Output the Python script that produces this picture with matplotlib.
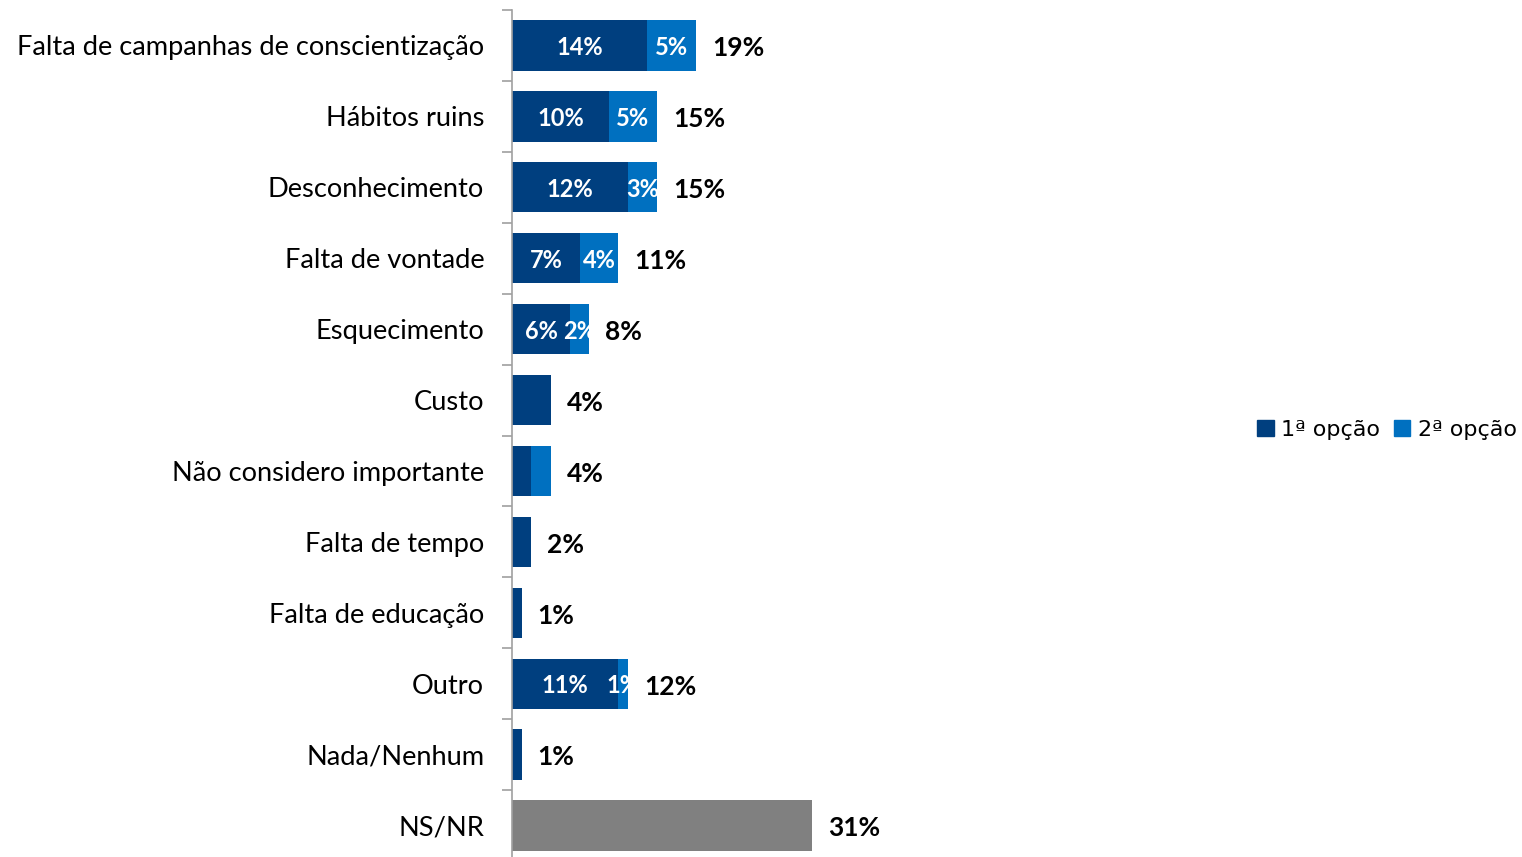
import matplotlib
matplotlib.use("Agg")
import matplotlib.pyplot as plt
from matplotlib.patches import Patch

categories = ["Falta de campanhas de conscientização", "Hábitos ruins", "Desconhecimento",
              "Falta de vontade", "Esquecimento", "Custo", "Não considero importante",
              "Falta de tempo", "Falta de educação", "Outro", "Nada/Nenhum", "NS/NR"]
first_option = [14, 10, 12, 7, 6, 4, 2, 2, 1, 11, 1, 0]
second_option = [5, 5, 3, 4, 2, 0, 2, 0, 0, 1, 0, 0]
nsnr = [0, 0, 0, 0, 0, 0, 0, 0, 0, 0, 0, 31]
totals = [19, 15, 15, 11, 8, 4, 4, 2, 1, 12, 1, 31]
show_inner = [True, True, True, True, True, False, False, False, False, True, False, False]
legend_labels = ["1ª opção", "2ª opção"]

DARK = "#003F7F"
LIGHT = "#0070C0"
GRAY = "#808080"

plt.rcParams['font.family'] = ['Lato', 'DejaVu Sans']

W, H = 1522, 857
fig = plt.figure(figsize=(W / 100, H / 100), dpi=100)
left = 512 / W
right = 1230 / W
top_px, bot_px = 10, 861
ax = fig.add_axes([left, (H - bot_px) / H, right - left, (bot_px - top_px) / H])

y = list(range(len(categories)))
h = 0.71
ax.barh(y, first_option, height=h, color=DARK)
ax.barh(y, second_option, left=first_option, height=h, color=LIGHT)
ax.barh(y, nsnr, height=h, color=GRAY)

xmax = (1230 - 512) / (300 / 31)
ax.set_xlim(0, xmax)
ax.set_ylim(len(categories) - 0.5, -0.5)

for i in y:
    if show_inner[i]:
        ax.text(first_option[i] / 2, i + 0.03, f"{first_option[i]}%", ha="center", va="center",
                color="white", fontsize=17, fontweight="bold")
        if second_option[i] > 0:
            ax.text(first_option[i] + second_option[i] / 2, i + 0.03, f"{second_option[i]}%",
                    ha="center", va="center", color="white", fontsize=17, fontweight="bold")
    ax.text(totals[i] + 1.65, i + 0.04, f"{totals[i]}%", ha="left", va="center",
            color="black", fontsize=19, fontweight="bold")

ax.set_yticks(y)
ax.set_yticklabels(categories, fontsize=19.6)
ax.set_yticks([i - 0.5 for i in range(len(categories) + 1)], minor=True)
ax.tick_params(axis="y", which="major", length=0, pad=20)
ax.tick_params(axis="y", which="minor", length=7, color="#A0A0A0", width=1.2)
ax.set_xticks([])
for s in ["top", "right", "bottom"]:
    ax.spines[s].set_visible(False)
ax.spines["left"].set_color("#A0A0A0")
ax.spines["left"].set_linewidth(1.2)

handles = [Patch(color=DARK), Patch(color=LIGHT)]
fig.legend(handles, legend_labels, loc="center", bbox_to_anchor=(1387 / W, 1 - 430 / H),
           ncol=2, frameon=False, prop={'family': 'DejaVu Sans', 'size': 16},
           handlelength=0.75, handleheight=0.75, handletextpad=0.35, columnspacing=0.6)

fig.savefig("out.png", dpi=100)
